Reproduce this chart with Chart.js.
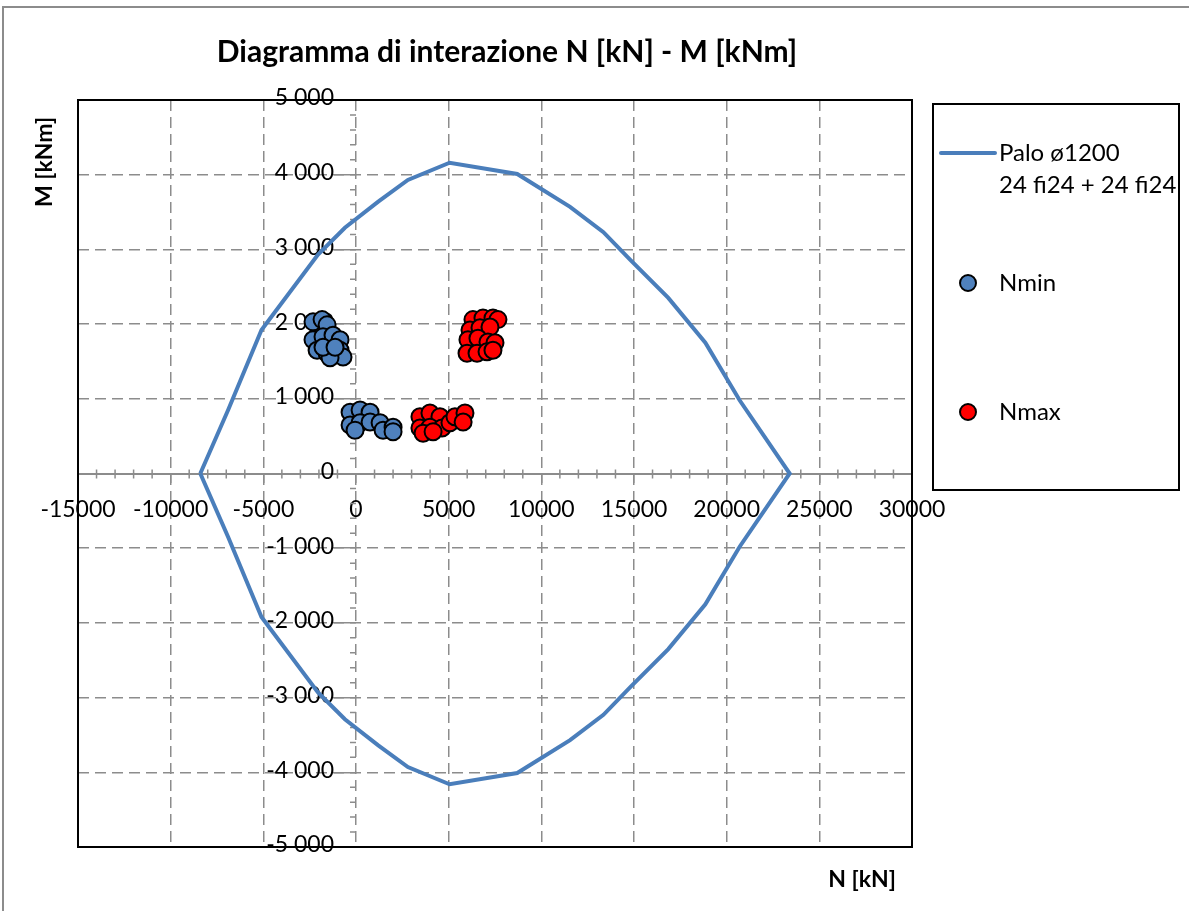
<!DOCTYPE html>
<html>
<head>
<meta charset="utf-8">
<script src="https://cdn.jsdelivr.net/npm/chart.js@4.4.1/dist/chart.umd.min.js"></script>
<style>
  html, body { margin: 0; padding: 0; background: #fff; }
  #wrap { position: relative; width: 1189px; height: 911px; }
</style>
</head>
<body>
<div id="wrap"><canvas id="myChart" width="1189" height="911"></canvas></div>
<script>
// interaction domain of the pile section, closed loop (N [kN], M [kNm])
const curveN = [-8400, -6900, -5100, -2050, -600, 1200, 2800, 5050, 8700, 11550, 13350, 14800, 16850, 18850, 20700, 23400,
                20700, 18850, 16850, 14800, 13350, 11550, 8700, 5050, 2800, 1200, -600, -2050, -5100, -6900, -8400];
const curveM = [0, 850, 1920, 2930, 3290, 3640, 3930, 4160, 4010, 3570, 3230, 2860, 2350, 1750, 980, 0,
                -980, -1750, -2350, -2860, -3230, -3570, -4010, -4160, -3930, -3640, -3290, -2930, -1920, -850, 0];

// load combinations with minimum axial force
const nminN = [-2320, -1830, -1560, -2320, -1780, -1240, -860, -2100, -1560, -860, -700, -1400, -1780, -1130,
               -320, 220, 760, -320, 220, 760, 1300, 1460, 2000, 2000, -50];
const nminM = [2030, 2060, 1990, 1790, 1830, 1850, 1790, 1650, 1610, 1650, 1560, 1550, 1690, 1690,
               820, 850, 820, 650, 680, 690, 680, 580, 620, 560, 580];

// load combinations with maximum axial force
const nmaxN = [6310, 6850, 7390, 7660, 6150, 6690, 7230, 6040, 6580, 7120, 7500, 5990, 6530, 7070, 7390,
               3450, 3990, 4530, 3450, 3990, 4640, 5070, 5340, 5880, 5780, 3620, 4160];
const nmaxM = [2060, 2080, 2080, 2060, 1920, 1950, 1960, 1790, 1810, 1760, 1750, 1610, 1610, 1630, 1650,
               760, 810, 760, 610, 620, 610, 680, 760, 810, 690, 540, 560];

const xTicks = [-15000, -10000, -5000, 0, 5000, 10000, 15000, 20000, 25000, 30000];
const xTickLabels = ['-15000', '-10000', '-5000', '0', '5000', '10000', '15000', '20000', '25000', '30000'];
const yTicks = [-5000, -4000, -3000, -2000, -1000, 0, 1000, 2000, 3000, 4000, 5000];
const yTickLabels = ['-5 000', '-4 000', '-3 000', '-2 000', '-1 000', '0', '1 000', '2 000', '3 000', '4 000', '5 000'];

const FONT = "Lato, 'Open Sans', sans-serif";
const gridGray = '#8c8c8c';

const pt = (xs, ys) => xs.map((x, i) => ({ x: x, y: ys[i] }));

// frame, plot border, axis titles, side legend
const decor = {
  id: 'decor',
  beforeDraw(chart) {
    const ctx = chart.ctx;
    ctx.save();
    ctx.fillStyle = '#fff';
    ctx.fillRect(0, 0, chart.width, chart.height);
    ctx.strokeStyle = '#8c8c8c';
    ctx.lineWidth = 2;
    ctx.beginPath();
    ctx.moveTo(3, chart.height);
    ctx.lineTo(3, 7);
    ctx.lineTo(chart.width, 7);
    ctx.stroke();
    ctx.restore();
  },
  beforeDatasetsDraw(chart) {
    // minor ticks on both axes
    const ctx = chart.ctx, xs = chart.scales.x, ys = chart.scales.y;
    const y0 = ys.getPixelForValue(0);
    const x0 = xs.getPixelForValue(0);
    ctx.save();
    ctx.strokeStyle = gridGray;
    ctx.lineWidth = 1.5;
    ctx.beginPath();
    for (let v = xs.min; v <= xs.max; v += 1000) {
      if (v % 5000 === 0) continue;
      const px = xs.getPixelForValue(v);
      ctx.moveTo(px, y0 - 4);
      ctx.lineTo(px, y0 + 5);
    }
    for (let v = ys.min; v <= ys.max; v += 200) {
      if (v % 1000 === 0) continue;
      const py = ys.getPixelForValue(v);
      ctx.moveTo(x0 - 6, py);
      ctx.lineTo(x0, py);
    }
    ctx.stroke();

    // M axis labels, right aligned left of the axis crossing at N = 0
    ctx.fillStyle = '#000';
    ctx.font = '23px ' + FONT;
    ctx.textAlign = 'right';
    ctx.textBaseline = 'middle';
    ys.ticks.forEach((t, i) => {
      ctx.fillText(yTickLabels[i], x0 - 22, ys.getPixelForValue(t.value) - 2);
    });
    ctx.restore();
  },
  afterDraw(chart) {
    const ctx = chart.ctx, a = chart.chartArea;
    ctx.save();
    ctx.strokeStyle = '#000';
    ctx.lineWidth = 2;
    ctx.strokeRect(a.left, a.top, a.right - a.left, a.bottom - a.top);

    ctx.fillStyle = '#000';
    ctx.textAlign = 'center';
    ctx.textBaseline = 'middle';
    ctx.font = 'bold 30px ' + FONT;
    ctx.fillText('Diagramma di interazione N [kN] - M [kNm]', 507, 52);

    ctx.font = 'bold 23px ' + FONT;
    ctx.fillText('N [kN]', 862, 880);
    ctx.save();
    ctx.translate(45, 162);
    ctx.rotate(-Math.PI / 2);
    ctx.fillText('M [kNm]', 0, 0);
    ctx.restore();

    // legend box
    ctx.lineWidth = 2;
    ctx.strokeRect(933, 104, 246, 386);
    const ds = chart.data.datasets;
    ctx.textAlign = 'left';
    ctx.font = '24px ' + FONT;
    ctx.strokeStyle = ds[2].borderColor;
    ctx.lineWidth = 4;
    ctx.lineCap = 'round';
    ctx.beginPath();
    ctx.moveTo(941, 153);
    ctx.lineTo(995, 153);
    ctx.stroke();
    ctx.fillText('Palo ø1200', 999, 153);
    ctx.fillText('24 fi24 + 24 fi24', 999, 185);

    [[ds[0], 283], [ds[1], 412]].forEach(([d, y]) => {
      ctx.beginPath();
      ctx.arc(968, y, 8, 0, Math.PI * 2);
      ctx.fillStyle = d.backgroundColor;
      ctx.fill();
      ctx.lineWidth = 2;
      ctx.strokeStyle = '#000';
      ctx.stroke();
      ctx.fillStyle = '#000';
      ctx.fillText(d.label, 999, y);
    });
    ctx.restore();
  }
};

const ctx = document.getElementById('myChart');
new Chart(ctx, {
  type: 'scatter',
  data: {
    datasets: [
      {
        label: 'Nmin',
        data: pt(nminN, nminM),
        backgroundColor: '#4f81bd',
        borderColor: '#000',
        borderWidth: 2,
        pointRadius: 8.5,
        order: 2
      },
      {
        label: 'Nmax',
        data: pt(nmaxN, nmaxM),
        backgroundColor: '#ff0000',
        borderColor: '#000',
        borderWidth: 2,
        pointRadius: 8.5,
        order: 1
      },
      {
        label: 'Palo ø1200 24 fi24 + 24 fi24',
        data: pt(curveN, curveM),
        showLine: true,
        borderColor: '#4a7ebb',
        borderWidth: 4,
        pointRadius: 0,
        tension: 0,
        fill: false,
        order: 0
      }
    ]
  },
  options: {
    responsive: false,
    devicePixelRatio: 1,
    animation: false,
    events: [],
    layout: { padding: { left: 78, top: 100, right: 277, bottom: 64 } },
    plugins: {
      legend: { display: false },
      title: { display: false },
      tooltip: { enabled: false }
    },
    scales: {
      x: {
        type: 'linear',
        min: -15000,
        max: 30000,
        position: { y: 0 },
        afterBuildTicks: s => { s.ticks = xTicks.map(v => ({ value: v })); },
        ticks: {
          callback: (v, i) => xTickLabels[i],
          font: { family: FONT, size: 23 },
          color: '#000',
          padding: 14,
          maxRotation: 0,
          autoSkip: false
        },
        grid: { color: gridGray, lineWidth: 1.5, tickLength: 8, tickColor: gridGray, tickWidth: 1.5, tickBorderDash: [] },
        border: { display: true, color: gridGray, width: 2, dash: [11, 6] }
      },
      y: {
        type: 'linear',
        min: -5000,
        max: 5000,
        position: { x: 0 },
        afterBuildTicks: s => { s.ticks = yTicks.map(v => ({ value: v })); },
        ticks: { display: false },
        grid: { color: gridGray, lineWidth: 1.5, tickLength: 22, tickColor: gridGray, tickWidth: 1.5, tickBorderDash: [] },
        border: { display: false, dash: [11, 6] }
      }
    }
  },
  plugins: [decor]
});
</script>
</body>
</html>
